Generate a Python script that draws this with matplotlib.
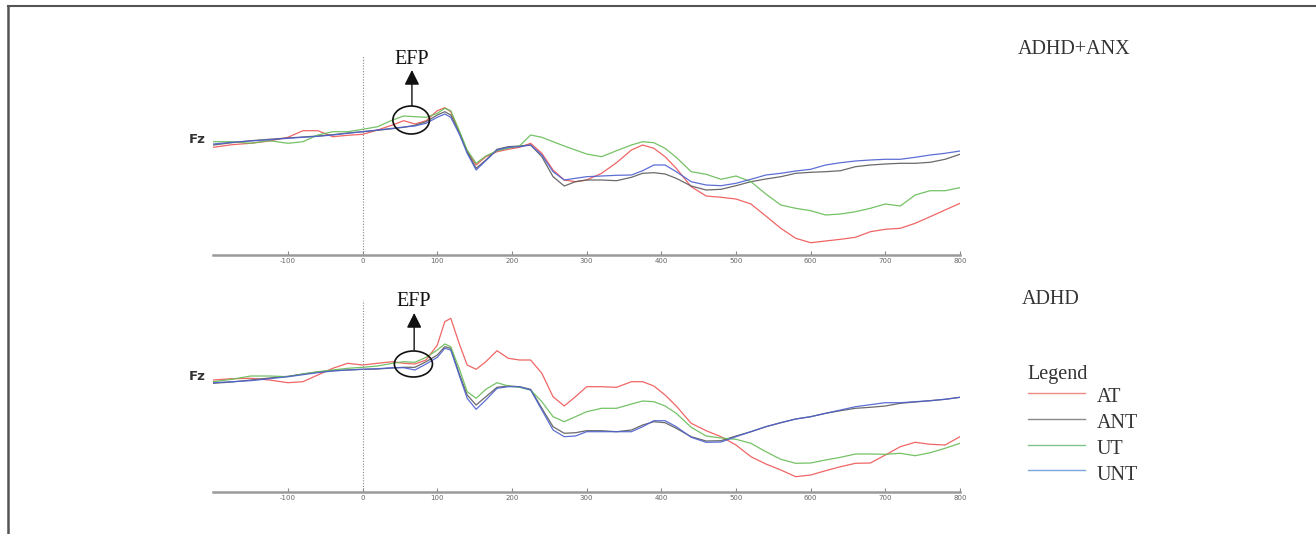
import matplotlib
matplotlib.use('Agg')
import matplotlib.pyplot as plt
from matplotlib.patches import Ellipse
from matplotlib.lines import Line2D

# time points (ms) shared by all waveforms
times = [-200, -175, -150, -125, -100, -80, -60, -40, -20, 0,
         20, 40, 55, 70, 85, 100, 110, 118, 130, 140,
         152, 165, 180, 195, 210, 225, 240, 255, 270, 285,
         300, 320, 340, 360, 375, 390, 405, 420, 440, 460,
         480, 500, 520, 540, 560, 580, 600, 620, 640, 660,
         680, 700, 720, 740, 760, 780, 800]

# ADHD+ANX group, Fz (arbitrary uV, positive up)
anx_at = [-0.73, -0.47, -0.33, -0.10, 0.27, 0.93, 0.93, 0.33, 0.47, 0.57,
          1.00, 1.50, 1.93, 1.60, 1.93, 2.93, 3.23, 2.83, 0.67, -1.17,
          -2.50, -1.67, -1.17, -0.93, -0.73, -0.33, -1.33, -3.00, -4.00, -4.17,
          -4.00, -3.33, -2.27, -1.00, -0.50, -0.83, -1.67, -2.83, -4.67, -5.60,
          -5.73, -5.90, -6.40, -7.60, -8.83, -9.83, -10.27, -10.10, -9.93, -9.73,
          -9.17, -8.93, -8.83, -8.33, -7.67, -7.00, -6.33]
anx_ant = [-0.50, -0.27, -0.07, 0.07, 0.20, 0.30, 0.40, 0.53, 0.70, 0.83,
           0.97, 1.13, 1.27, 1.47, 1.83, 2.50, 2.83, 2.50, 0.67, -1.17,
           -2.83, -2.00, -0.93, -0.67, -0.60, -0.50, -1.67, -3.67, -4.60, -4.17,
           -4.00, -4.00, -4.07, -3.73, -3.33, -3.27, -3.40, -3.83, -4.60, -5.00,
           -4.93, -4.57, -4.17, -3.90, -3.67, -3.33, -3.23, -3.17, -3.07, -2.67,
           -2.50, -2.40, -2.33, -2.33, -2.23, -1.93, -1.43]
anx_ut = [-0.17, -0.17, -0.33, -0.07, -0.33, -0.17, 0.50, 0.83, 0.83, 1.07,
          1.33, 2.00, 2.40, 2.33, 2.27, 2.67, 3.17, 2.93, 0.83, -1.00,
          -2.33, -1.60, -1.07, -0.83, -0.60, 0.50, 0.27, -0.17, -0.60, -1.00,
          -1.40, -1.67, -1.07, -0.50, -0.17, -0.27, -0.83, -1.73, -3.17, -3.43,
          -3.93, -3.60, -4.17, -5.40, -6.50, -6.83, -7.07, -7.50, -7.40, -7.17,
          -6.83, -6.40, -6.60, -5.50, -5.07, -5.07, -4.77]
anx_unt = [-0.40, -0.23, -0.10, 0.03, 0.17, 0.27, 0.37, 0.50, 0.67, 0.83,
           1.00, 1.17, 1.30, 1.40, 1.67, 2.27, 2.60, 2.27, 0.50, -1.33,
           -3.00, -2.07, -1.00, -0.73, -0.67, -0.50, -1.50, -3.17, -4.00, -3.83,
           -3.67, -3.60, -3.53, -3.50, -3.07, -2.50, -2.50, -3.17, -4.17, -4.50,
           -4.57, -4.33, -3.93, -3.50, -3.33, -3.10, -2.93, -2.50, -2.27, -2.10,
           -2.00, -1.93, -1.93, -1.73, -1.50, -1.33, -1.10]

# ADHD group, Fz
adhd_at = [-0.30, -0.17, -0.13, -0.30, -0.57, -0.47, 0.20, 0.87, 1.37, 1.20,
           1.37, 1.53, 1.37, 1.30, 1.70, 3.20, 5.53, 5.87, 3.20, 1.20,
           0.77, 1.53, 2.63, 1.87, 1.70, 1.70, 0.37, -1.97, -2.90, -1.97,
           -0.97, -0.97, -1.03, -0.47, -0.47, -0.90, -1.80, -2.90, -4.63, -5.37,
           -5.97, -6.80, -7.97, -8.70, -9.30, -9.97, -9.80, -9.37, -8.97, -8.63,
           -8.60, -7.80, -6.97, -6.53, -6.73, -6.80, -5.97]
adhd_ant = [-0.63, -0.50, -0.30, -0.10, 0.07, 0.30, 0.50, 0.63, 0.70, 0.77,
            0.80, 0.90, 0.97, 0.97, 1.53, 2.20, 3.03, 2.87, 0.20, -1.80,
            -2.80, -1.97, -1.03, -0.90, -0.97, -1.23, -3.13, -4.97, -5.63, -5.57,
            -5.37, -5.37, -5.47, -5.30, -4.80, -4.47, -4.57, -5.13, -5.97, -6.40,
            -6.37, -5.90, -5.47, -4.97, -4.57, -4.20, -3.97, -3.63, -3.37, -3.13,
            -3.03, -2.90, -2.63, -2.50, -2.37, -2.23, -2.03]
adhd_ut = [-0.47, -0.23, 0.10, 0.10, 0.03, 0.30, 0.53, 0.70, 0.87, 0.97,
           1.10, 1.37, 1.53, 1.47, 1.97, 2.70, 3.30, 3.03, 0.70, -1.47,
           -2.13, -1.23, -0.57, -0.90, -1.03, -1.30, -2.47, -3.97, -4.47, -3.97,
           -3.47, -3.13, -3.13, -2.70, -2.40, -2.47, -2.90, -3.63, -5.03, -5.90,
           -6.10, -6.23, -6.63, -7.47, -8.23, -8.63, -8.60, -8.30, -8.03, -7.70,
           -7.70, -7.73, -7.63, -7.87, -7.57, -7.13, -6.63]
adhd_unt = [-0.57, -0.47, -0.37, -0.17, 0.03, 0.23, 0.43, 0.60, 0.70, 0.77,
            0.83, 0.93, 0.93, 0.70, 1.30, 1.97, 2.87, 2.70, 0.03, -2.13,
            -3.23, -2.30, -1.13, -0.97, -0.97, -1.30, -3.30, -5.30, -5.97, -5.90,
            -5.47, -5.47, -5.47, -5.47, -4.97, -4.37, -4.37, -4.97, -6.03, -6.53,
            -6.50, -5.97, -5.47, -4.97, -4.57, -4.20, -3.97, -3.63, -3.30, -2.97,
            -2.77, -2.57, -2.57, -2.47, -2.37, -2.23, -2.03]

conditions = ['AT', 'ANT', 'UT', 'UNT']
line_colors = ['#ee5555', '#5a5a5a', '#66bb55', '#4c5fd0']
legend_colors = ['#f08a80', '#8a8a8a', '#7fc48a', '#7fa6dc']
x_ticks = [-100, 0, 100, 200, 300, 400, 500, 600, 700, 800]

W, H = 1316, 534
fig = plt.figure(figsize=(W / 100, H / 100), dpi=100)
fig.patch.set_facecolor('white')


def px_box(left, top, right, bottom):
    return [left / W, 1 - bottom / H, (right - left) / W, (bottom - top) / H]


panels = [
    (px_box(213.3, 55, 960, 255), (-11.5, 8.5),
     [anx_at, anx_ant, anx_ut, anx_unt], (65, 2.0, 49, 2.8), (8.0, 7.0, 3.4)),
    (px_box(213.3, 300, 960, 492), (-11.5, 7.7),
     [adhd_at, adhd_ant, adhd_ut, adhd_unt], (68, 1.3, 51, 2.6), (7.6, 6.4, 2.7)),
]

for box, ylim, series, ell, efp in panels:
    ax = fig.add_axes(box)
    ax.set_xlim(-200, 800)
    ax.set_ylim(*ylim)
    for vals, c in zip(series, line_colors):
        ax.plot(times, vals, color=c, lw=0.9, alpha=0.9)

    # stimulus onset
    ax.axvline(0, color='#888888', lw=0.8, ls=(0, (1, 1.5)))

    for s in ['top', 'right', 'left']:
        ax.spines[s].set_visible(False)
    ax.spines['bottom'].set_color('#9a9a9a')
    ax.spines['bottom'].set_linewidth(1.8)
    ax.set_yticks([])
    ax.set_xticks(x_ticks)
    ax.set_xticklabels([str(t) for t in x_ticks])
    ax.tick_params(axis='x', direction='in', length=3, width=0.8,
                   colors='#8a8a8a', labelsize=5, pad=2, labelcolor='#666666')

    ax.text(-210, 0, 'Fz', ha='right', va='center', fontsize=9.5,
            fontweight='bold', color='#333333', clip_on=False)

    # EFP marker
    ex, ey, ew, eh = ell
    ax.add_patch(Ellipse((ex, ey), ew, eh, fill=False, ec='#111111', lw=1.2,
                         clip_on=False, zorder=6))
    ty, ah, ab = efp
    ax.annotate('', xy=(ex + 1, ah), xytext=(ex + 1, ab),
                arrowprops=dict(arrowstyle='-|>,head_length=0.9,head_width=0.45',
                                color='#111111', lw=1.0, shrinkA=0, shrinkB=0),
                annotation_clip=False)
    ax.text(ex + 1, ty, 'EFP', ha='center', va='center', fontsize=14.5,
            family='Liberation Serif', color='#111111', clip_on=False)

serif = 'Liberation Serif'
fig.text(1018 / W, 1 - 49 / H, 'ADHD+ANX', fontsize=14.5, family=serif,
         color='#333333', va='center', ha='left')
fig.text(1022 / W, 1 - 300 / H, 'ADHD', fontsize=14.5, family=serif,
         color='#333333', va='center', ha='left')
fig.text(1027 / W, 1 - 374 / H, 'Legend', fontsize=14.5, family=serif,
         color='#333333', va='center', ha='left')

legend_y = [393, 419, 445, 470]
for name, c, y in zip(conditions, legend_colors, legend_y):
    fig.add_artist(Line2D([1028 / W, 1085 / W], [1 - y / H, 1 - y / H],
                          color=c, lw=1.0))
    fig.text(1097 / W, 1 - (y + 5) / H, name, fontsize=14.5, family=serif,
             color='#333333', va='center', ha='left')

# page frame (top and left edges)
fig.add_artist(Line2D([8 / W, 1], [1 - 6 / H, 1 - 6 / H], color='#555555', lw=1.5))
fig.add_artist(Line2D([8 / W, 8 / W], [0, 1 - 6 / H], color='#555555', lw=1.8))

fig.savefig('out.png', dpi=100, facecolor='white')
